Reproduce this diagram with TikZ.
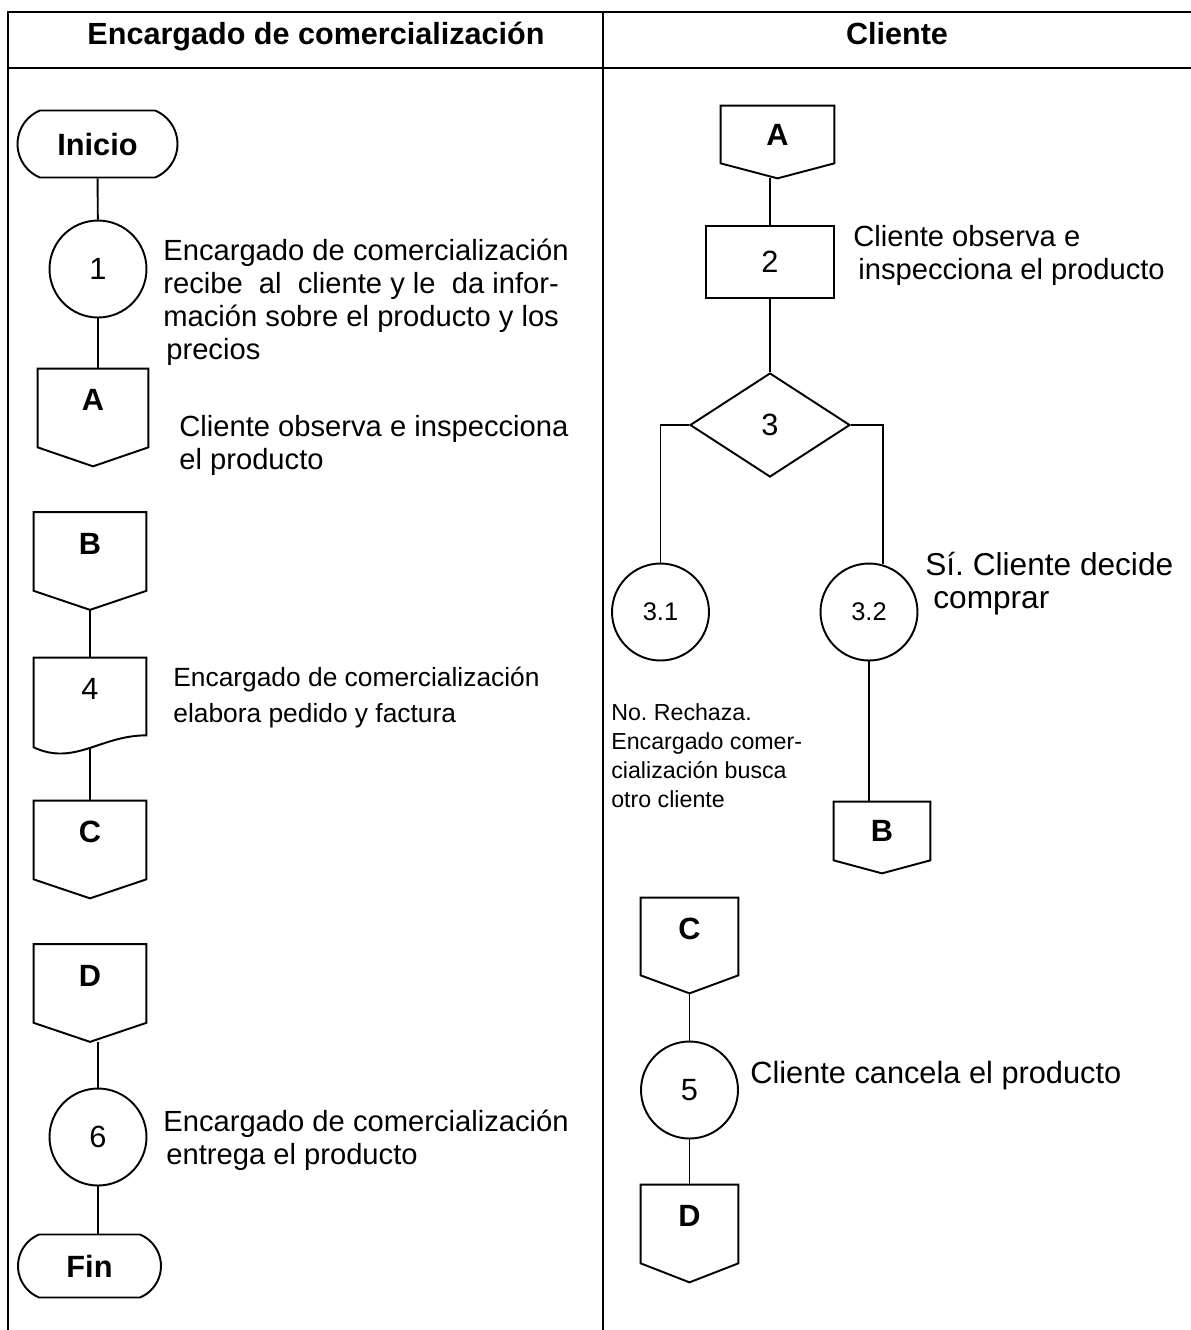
\documentclass[tikz,border=0pt]{standalone}
\usepackage{fontspec}
\setmainfont{Liberation Sans}
\usetikzlibrary{shapes.geometric,shapes.misc,calc}
\frenchspacing

\tikzset{
  marco/.style={line width=1.6pt},
  forma/.style={line width=1.1pt},
  linea/.style={line width=1.1pt},
  terminal/.style={rounded rectangle, rounded rectangle arc length=135, draw, forma,
    inner sep=0pt, font=\fontsize{17.5}{20}\selectfont\bfseries},
  proceso/.style={circle, draw, forma, inner sep=0pt, minimum size=1.94cm,
    font=\fontsize{17.5}{18}\selectfont},
  decision/.style={diamond, draw, forma, inner sep=0pt, minimum width=3.2cm,
    minimum height=2.08cm, font=\fontsize{17.5}{18}\selectfont},
  conector/.style={inner sep=0pt, minimum width=2.24cm, minimum height=1.56cm,
    font=\fontsize{17.5}{18}\selectfont\bfseries, text depth=0.32cm},
  nota/.style={anchor=base west, align=left, inner sep=0pt,
    font=\fontsize{16.6}{18.7}\selectfont},
}

% conector de pagina: [opciones]{nombre}{centro}{punta}{letra}
\newcommand{\conector}[5][]{%
  \node[conector,#1] (#2) at #3 {#5};
  \draw[forma] (#2.north west) -- (#2.north east) -- (#2.south east)
    -- ($(#2.south)+(0,#4)$) coordinate (#2-p) -- (#2.south west) -- cycle;
}

\begin{document}
\begin{tikzpicture}[x=0.02cm, y=-0.02cm]
\useasboundingbox (0,0) rectangle (1191,1330);

% Marco de la tabla
\draw[marco] (8,1330) -- (8,12) -- (1191,12);
\draw[marco] (8,68) -- (1191,68);
\draw[marco] (603,12) -- (603,1330);

\node[anchor=base, font=\fontsize{17.4}{20}\selectfont\bfseries] (tit1) at (316,44.5) {Encargado de comercialización};
\node[anchor=base, font=\fontsize{17.4}{20}\selectfont\bfseries] (tit2) at (897,44.5) {Cliente};

% Encargado de comercializacion
\node[terminal, minimum width=3.2cm, minimum height=1.34cm] (inicio) at (97.5,144) {Inicio};
\node[proceso] (p1) at (98,269) {1};
\node[nota] (n1) at (163,359) {Encargado de comercialización\\recibe\ \ al\ \ cliente y le\ \ da infor-\\mación sobre el producto y los\\\hspace*{0.06cm}precios};

\conector[minimum width=2.2cm]{A1}{(93,408)}{19}{A}
\node[nota] (n2) at (179,469) {Cliente observa e inspecciona\\el producto};

\conector{B1}{(90,551.5)}{19}{B}

% documento
\node[inner sep=0pt, minimum width=2.24cm, minimum height=1.54cm, text depth=0.32cm,
  font=\fontsize{17.5}{18}\selectfont] (p4) at (90,696.5) {4};
\draw[forma] (p4.north west) -- (p4.north east) -- (p4.south east)
  .. controls +(-46,0) and +(41,19) .. ($(p4.south west)+(0,12)$)
  coordinate[pos=0.48] (p4-m) -- cycle;
\node[nota, font=\fontsize{15}{20.4}\selectfont] (n4) at (173,722) {Encargado de comercialización\\elabora pedido y factura};

\conector{C1}{(90,840)}{19}{C}
\conector{D1}{(90,983.5)}{19}{D}

\node[proceso] (p6) at (98,1137) {6};
\node[nota] (n6) at (163,1164) {Encargado de comercialización\\\hspace*{0.06cm}entrega el producto};
\node[terminal, minimum width=2.86cm, minimum height=1.26cm] (fin) at (89.5,1266) {Fin};

\draw[linea] (inicio) -- (p1);
\draw[linea] (p1.south) -- (p1.south |- A1.north);
\draw[linea] (B1-p) -- (p4.north);
\draw[linea] (p4-m) -- (p4-m |- C1.north);
\draw[linea] (p6.north) -- (p6.north |- D1-p);
\draw[linea] (p6.south) -- (p6.south |- fin.north);

% Cliente
\conector[minimum width=2.26cm, minimum height=1.14cm, text depth=0pt]{A2}{(777.5,134.5)}{15}{A}
\node[draw, forma, inner sep=0pt, minimum width=2.56cm, minimum height=1.44cm,
  font=\fontsize{17.5}{18}\selectfont] (p2) at (770,262) {2};
\node[nota] (n2b) at (853,279) {Cliente observa e\\\hspace*{0.1cm}inspecciona el producto};

\node[decision] (p3) at (770,425) {3};
\node[proceso, font=\fontsize{14.5}{16}\selectfont] (p31) at (660.5,612) {3.1};
\node[proceso, font=\fontsize{14.5}{16}\selectfont] (p32) at (869,612) {3.2};
\node[nota, font=\fontsize{18}{18.7}\selectfont] (n32) at (925,608) {Sí. Cliente decide\\\hspace*{0.16cm}comprar};
\node[nota, font=\fontsize{13.2}{16.4}\selectfont] (n31) at (611,807) {No. Rechaza.\\Encargado comer-\\cialización busca\\otro cliente};

\conector[minimum width=1.92cm, minimum height=1.16cm, text depth=0pt]{B2}{(882,831)}{13}{B}
\conector[minimum width=1.94cm, minimum height=1.54cm]{C2}{(689.5,936.5)}{18}{C}
\node[proceso] (p5) at (689.5,1090) {5};
\node[nota, font=\fontsize{17.5}{20}\selectfont] (n5) at (750,1083) {Cliente cancela el producto};
\conector[minimum width=1.94cm]{D2}{(689.5,1224)}{19}{D}

\draw[linea] (p2.north) -- (p2.north |- A2-p);
\draw[linea] (p2) -- (p3);
\draw[linea] (p3.west) -- (p3.west -| p31.north) -- (p31.north);
\draw[linea] (p3.east) -- (p3.east -| p32.74) -- (p32.74);
\draw[linea] (p32.south) -- (p32.south |- B2.north);
\draw[linea] (C2-p) -- (p5.north);
\draw[linea] (p5.south) -- (D2.north);
\end{tikzpicture}
\end{document}
